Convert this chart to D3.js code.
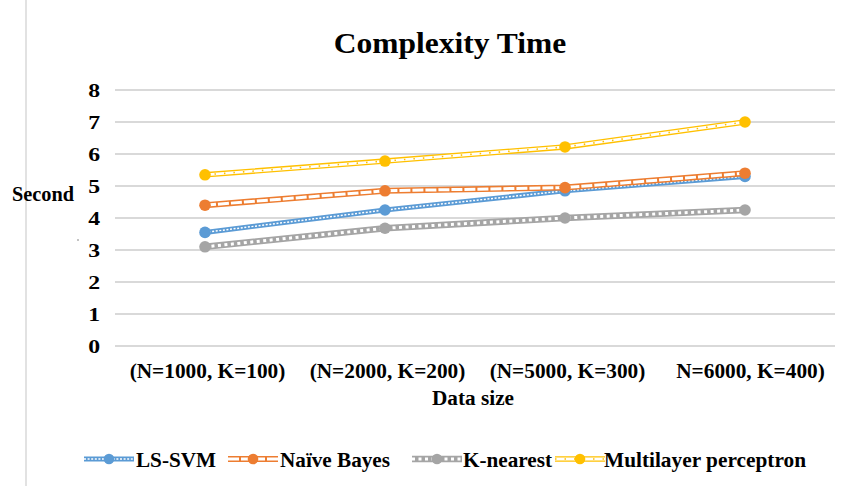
<!DOCTYPE html>
<html>
<head>
<meta charset="utf-8">
<script src="https://cdn.jsdelivr.net/npm/d3@7"></script>
<style>
  html, body { margin: 0; padding: 0; background: #fff; }
  svg { display: block; font-family: "Liberation Serif", "Times New Roman", serif; font-weight: bold; }
</style>
</head>
<body>
<svg id="chart" width="848" height="486"></svg>
<script>
// Categories (data sizes) and run times in seconds for each classifier
const categories = ["(N=1000, K=100)", "(N=2000, K=200)", "(N=5000, K=300)", "N=6000, K=400)"];
const lsSvm      = [3.55, 4.25, 4.85, 5.3];
const naiveBayes = [4.4, 4.85, 4.95, 5.4];
const kNearest   = [3.1, 3.68, 4.0, 4.25];
const mlp        = [5.35, 5.78, 6.22, 7.0];
const yTicks     = [0, 1, 2, 3, 4, 5, 6, 7, 8];

const seriesNames = ["LS-SVM", "Naïve Bayes", "K-nearest", "Multilayer perceptron"];

// Stroke recipes: a coloured base stroke with a patterned inner stroke on top
const styles = [
  { color: "#5B9BD5", base: 5,   inner: { stroke: "#fff", width: 1.5, dash: "2,1.6" } },
  { color: "#ED7D31", base: 6,   inner: { stroke: "#fff", width: 3,   dash: "11,2" } },
  { color: "#A5A5A5", base: 6.5, inner: { stroke: "#fff", width: 3,   dash: "3,3.5" } },
  { color: "#FFC000", base: 5.5, inner: { stroke: "#fff", width: 2.8, dash: null }, dots: { width: 1.6, dash: "1.5,8" } }
];

const seriesValues = [lsSvm, naiveBayes, kNearest, mlp];
const series = seriesNames.map((name, i) => ({ name, values: seriesValues[i], style: styles[i] }));

const svg = d3.select("#chart");

// Stretch text horizontally by a factor, keeping its anchor
function stretch(sel, k) {
  sel.each(function () {
    const w = this.getComputedTextLength();
    d3.select(this).attr("textLength", w * k).attr("lengthAdjust", "spacingAndGlyphs");
  });
}

// Left border of the chart frame
svg.append("line")
  .attr("x1", 26).attr("x2", 26).attr("y1", 0).attr("y2", 486)
  .attr("stroke", "#D9D9D9").attr("stroke-width", 1.5);

const x = d3.scalePoint().domain(categories).range([115, 835]).padding(0.5);
const y = d3.scaleLinear().domain([0, 8]).range([346, 90]);

// Title
svg.append("text")
  .attr("x", 450).attr("y", 53)
  .attr("text-anchor", "middle")
  .attr("font-size", 30)
  .text("Complexity Time")
  .call(stretch, 1.05);

// Horizontal gridlines
svg.append("g").selectAll("line")
  .data(yTicks).join("line")
  .attr("x1", 115).attr("x2", 835)
  .attr("y1", d => y(d)).attr("y2", d => y(d))
  .attr("stroke", "#D9D9D9").attr("stroke-width", 2.2);

// Y axis (labels only)
const yAxis = svg.append("g")
  .attr("transform", "translate(109,0)")
  .call(d3.axisLeft(y).tickValues(yTicks).tickSize(0).tickPadding(9).tickFormat(d3.format("d")));
yAxis.select(".domain").remove();
yAxis.selectAll("text")
  .attr("font-family", "Liberation Serif, Times New Roman, serif")
  .attr("font-weight", "bold")
  .attr("font-size", 19)
  .attr("fill", "#000")
  .call(stretch, 1.25);

// X axis (labels only)
const xAxis = svg.append("g")
  .attr("transform", "translate(0,346)")
  .call(d3.axisBottom(x).tickSize(0).tickPadding(17));
xAxis.select(".domain").remove();
xAxis.selectAll("text")
  .attr("font-family", "Liberation Serif, Times New Roman, serif")
  .attr("font-weight", "bold")
  .attr("font-size", 20.5)
  .attr("fill", "#000")
  .attr("dx", (d, i) => i === 3 ? 5 : 2)
  .call(stretch, 1.04);

// Axis titles
svg.append("text")
  .attr("x", 12).attr("y", 201)
  .attr("font-size", 21)
  .attr("textLength", 62).attr("lengthAdjust", "spacingAndGlyphs")
  .text("Second");
svg.append("line")
  .attr("x1", 77).attr("x2", 79).attr("y1", 240).attr("y2", 240)
  .attr("stroke", "#888").attr("stroke-width", 1);

svg.append("text")
  .attr("x", 473).attr("y", 405)
  .attr("text-anchor", "middle")
  .attr("font-size", 20)
  .attr("textLength", 82).attr("lengthAdjust", "spacingAndGlyphs")
  .text("Data size");

// Series lines and markers
const line = d3.line().x((d, i) => x(categories[i])).y(d => y(d));

function drawStroke(g, pathData, st) {
  g.append("path").attr("d", pathData).attr("fill", "none")
    .attr("stroke", st.color).attr("stroke-width", st.base).attr("stroke-linejoin", "round");
  g.append("path").attr("d", pathData).attr("fill", "none")
    .attr("stroke", st.inner.stroke).attr("stroke-width", st.inner.width)
    .attr("stroke-dasharray", st.inner.dash);
  if (st.dots) {
    g.append("path").attr("d", pathData).attr("fill", "none")
      .attr("stroke", st.color).attr("stroke-width", st.dots.width)
      .attr("stroke-dasharray", st.dots.dash);
  }
}

series.forEach(s => {
  const g = svg.append("g");
  drawStroke(g, line(s.values), s.style);
  g.selectAll("circle").data(s.values).join("circle")
    .attr("cx", (d, i) => x(categories[i]))
    .attr("cy", d => y(d))
    .attr("r", 5.8)
    .attr("fill", s.style.color);
});

// Legend
const legendItems = [
  { x0: 84,  tx: 136, w: 80 },
  { x0: 228, tx: 280, w: 110 },
  { x0: 412, tx: 463, w: 89 },
  { x0: 555, tx: 604, w: 202 }
];
const ly = 459;
series.forEach((s, i) => {
  const it = legendItems[i];
  const g = svg.append("g");
  drawStroke(g, `M${it.x0},${ly}L${it.x0 + 50},${ly}`, s.style);
  g.append("circle").attr("cx", it.x0 + 25).attr("cy", ly).attr("r", 5.3).attr("fill", s.style.color);
  g.append("text").attr("x", it.tx).attr("y", ly + 8)
    .attr("font-size", 22)
    .attr("textLength", it.w).attr("lengthAdjust", "spacingAndGlyphs")
    .text(s.name);
});
</script>
</body>
</html>
